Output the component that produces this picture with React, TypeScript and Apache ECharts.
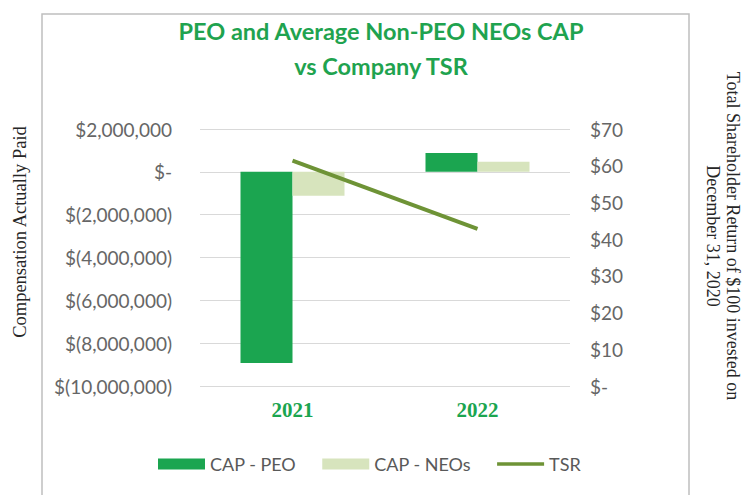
import React, { useEffect, useRef } from "react";
import * as echarts from "echarts";

const categories = ["2021", "2022"];
const capPeo = [-8930000, 880000];
const capNeos = [-1120000, 470000];
const tsr = [61.4, 42.8];
const leftTicks = { min: -10000000, max: 2000000, interval: 2000000 };
const rightTicks = { min: 0, max: 70, interval: 10 };

const fmtMoney = (v: number) => {
  if (v === 0) return "$-";
  const s = Math.abs(v).toLocaleString("en-US");
  return v < 0 ? `$(${s})` : `$${s}`;
};

export default function App() {
  const ref = useRef<HTMLDivElement>(null);
  useEffect(() => {
    if (!ref.current) return;
    const chart = echarts.init(ref.current, null, { renderer: "svg" });
    const labelFont = "Lato";
    chart.setOption({
      animation: false,
      backgroundColor: "#ffffff",
      title: {
        text: "PEO and Average Non-PEO NEOs CAP\nvs Company TSR",
        left: 376,
        textAlign: "center",
        top: 8,
        textStyle: {
          color: "#1FA34F",
          fontFamily: labelFont,
          fontWeight: "bold",
          fontSize: 23.5,
          lineHeight: 35,
        },
      },
      grid: { left: 200, right: 177, top: 129, bottom: 109 },
      legend: {
        bottom: 17,
        left: 153,
        itemWidth: 47,
        itemHeight: 11,
        itemGap: 26,
        textStyle: { color: "#595959", fontFamily: labelFont, fontSize: 18 },
        data: [
          { name: "CAP - PEO", icon: "rect" },
          { name: "CAP - NEOs", icon: "rect" },
          {
            name: "TSR",
            icon: "path://M0,0 M0,4 L50,4 L50,7.5 L0,7.5 Z M50,11.5",
          },
        ],
      },
      xAxis: {
        type: "category",
        data: categories,
        axisLine: { show: false, onZero: false },
        axisTick: { show: false },
        axisLabel: {
          margin: 13,
          color: "#1BA550",
          fontFamily: "Liberation Serif",
          fontWeight: "bold",
          fontSize: 21,
        },
      },
      yAxis: [
        {
          type: "value",
          min: leftTicks.min,
          max: leftTicks.max,
          interval: leftTicks.interval,
          axisLine: { show: false },
          axisTick: { show: false },
          splitLine: { lineStyle: { color: "#d9d9d9", width: 1 } },
          axisLabel: {
            margin: 28,
            color: "#666666",
            fontFamily: labelFont,
            fontSize: 19,
            formatter: (v: number) => fmtMoney(v),
          },
        },
        {
          type: "value",
          min: rightTicks.min,
          max: rightTicks.max,
          interval: rightTicks.interval,
          axisLine: { show: false },
          axisTick: { show: false },
          splitLine: { show: false },
          axisLabel: {
            margin: 20,
            color: "#666666",
            fontFamily: labelFont,
            fontSize: 19,
            formatter: (v: number) => (v === 0 ? "$-" : `$${v}`),
          },
        },
      ],
      series: [
        {
          name: "CAP - PEO",
          type: "bar",
          data: capPeo,
          barWidth: 52,
          barGap: "0%",
          itemStyle: { color: "#1BA550" },
        },
        {
          name: "CAP - NEOs",
          type: "bar",
          data: capNeos,
          barWidth: 52,
          barGap: "0%",
          itemStyle: { color: "#D7E4BD" },
        },
        {
          name: "TSR",
          type: "line",
          yAxisIndex: 1,
          data: tsr,
          symbol: "none",
          lineStyle: { color: "#6E9336", width: 4 },
          itemStyle: { color: "#6E9336" },
        },
      ],
      graphic: [
        {
          type: "rect",
          shape: { x: 42, y: 14, width: 647, height: 500 },
          style: { fill: "none", stroke: "#bfbfbf", lineWidth: 1.5 },
          silent: true,
        },
        {
          type: "text",
          x: 20,
          y: 232,
          rotation: Math.PI / 2,
          style: {
            text: "Compensation Actually Paid",
            fontFamily: "Liberation Serif",
            fontSize: 18.5,
            fill: "#262626",
            align: "center",
            verticalAlign: "middle",
          },
        },
        {
          type: "text",
          x: 723,
          y: 236,
          rotation: -Math.PI / 2,
          style: {
            text: "Total Shareholder Return of $100 invested on\nDecember 31, 2020",
            fontFamily: "Liberation Serif",
            fontSize: 18,
            lineHeight: 20,
            fill: "#262626",
            align: "center",
            verticalAlign: "middle",
          },
        },
      ],
    });
    return () => chart.dispose();
  }, []);
  return (
    <div
      ref={ref}
      style={{ position: "fixed", left: 0, top: 0, width: 747, height: 495 }}
    />
  );
}
